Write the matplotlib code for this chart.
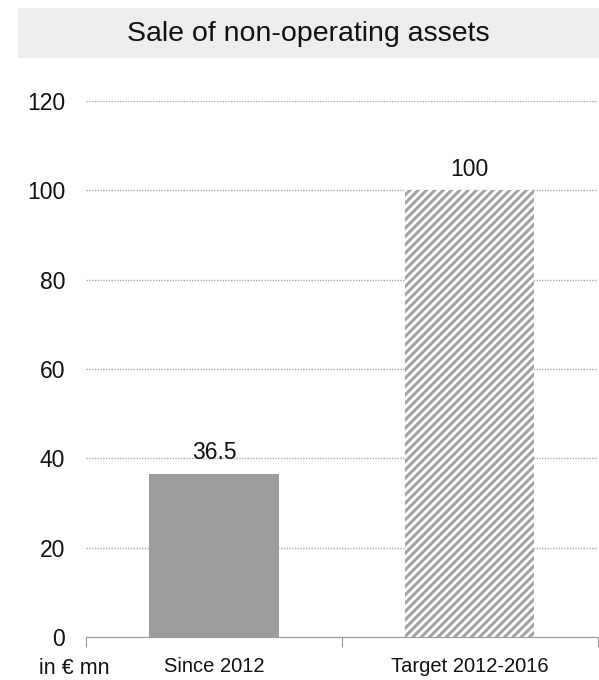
import matplotlib
matplotlib.use("Agg")
import matplotlib.pyplot as plt
from matplotlib.patches import Rectangle

categories = ["Since 2012", "Target 2012-2016"]
values = [36.5, 100]
value_labels = ["36.5", "100"]
yticks = [0, 20, 40, 60, 80, 100, 120]

plt.rcParams["font.family"] = ["Liberation Sans", "DejaVu Sans"]
plt.rcParams["hatch.linewidth"] = 2.2

fig = plt.figure(figsize=(5.99, 6.80), dpi=100)

# title band
fig.patches.append(Rectangle((18 / 599, 1 - 58 / 680), 1 - 18 / 599, 50 / 680,
                             transform=fig.transFigure, facecolor="#ECEDED",
                             edgecolor="none", zorder=0))
fig.text(0.515, 1 - 34 / 680, "Sale of non-operating assets", ha="center",
         va="center", fontsize=20.5, color="#111111")

ax = fig.add_axes([86 / 599, 1 - 637 / 680, 1 - 86 / 599 - 0.002, 536 / 680])
x = range(len(categories))
bars = ax.bar(x, values, width=0.505, color=["#9D9D9D", "white"], edgecolor="none", zorder=3)
bars[1].set_hatch("////")
bars[1].set_edgecolor("#A3A3A3")
bars[1].set_linewidth(0)

for xi, v, lab in zip(x, values, value_labels):
    ax.text(xi, v + 3.3, lab, ha="center", va="baseline", fontsize=16.5, color="#111111")

ax.set_xlim(-0.5, 1.5)
ax.set_ylim(0, 120)
ax.set_yticks(yticks)
ax.set_yticklabels([str(t) for t in yticks], fontsize=16.5, color="#111111")
ax.yaxis.grid(True, linestyle=(0, (1, 1)), color="#AAAAAA", linewidth=1.0, zorder=0)
ax.set_axisbelow(True)
ax.tick_params(axis="y", length=0, pad=15)

ax.set_xticks([-0.5, 0.5, 1.5])
ax.set_xticklabels([])
ax.tick_params(axis="x", length=7, color="#999999", direction="out")
ax.set_xticks(list(x), minor=True)
ax.set_xticklabels(categories, minor=True, fontsize=14.5, color="#111111")
ax.tick_params(axis="x", which="minor", length=0, pad=14.5)

for s in ["left", "right", "top"]:
    ax.spines[s].set_visible(False)
ax.spines["bottom"].set_color("#999999")

fig.text(39 / 599, 1 - 669 / 680, "in € mn", ha="left", va="center", fontsize=15.5, color="#111111")

fig.savefig("out.png", dpi=100)
